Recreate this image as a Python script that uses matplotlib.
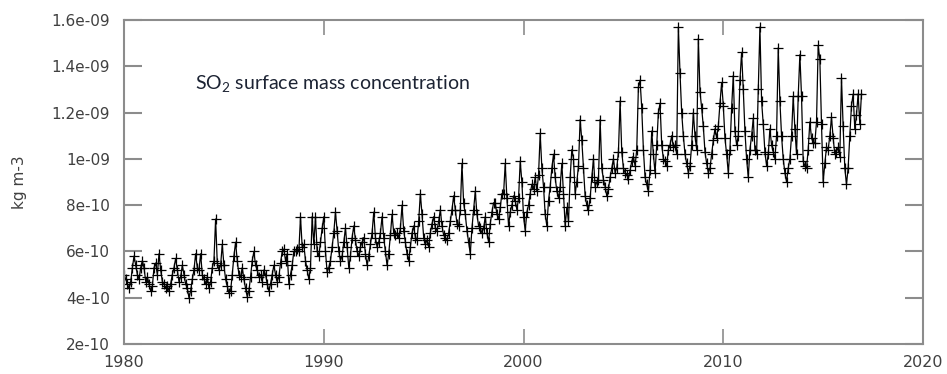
import numpy as np
import matplotlib
matplotlib.use("Agg")
import matplotlib.pyplot as plt

# monthly SO2 surface mass concentration, units of 1e-10 kg m-3, Jan..Dec per row
so2 = {
    1980: [5.0, 4.8, 4.6, 4.4, 4.7, 5.3, 5.8, 5.4, 5.0, 4.8, 5.3, 5.6],
    1981: [5.3, 4.7, 4.9, 4.6, 4.3, 4.5, 5.3, 5.5, 5.0, 5.9, 5.2, 4.7],
    1982: [4.6, 4.4, 4.5, 4.3, 4.6, 5.0, 5.3, 5.7, 5.2, 4.7, 4.9, 5.4],
    1983: [5.0, 4.6, 4.4, 4.0, 4.3, 4.8, 5.2, 5.9, 5.3, 5.2, 5.9, 5.0],
    1984: [4.8, 4.6, 4.9, 4.4, 4.7, 5.3, 5.6, 7.4, 5.5, 5.2, 5.4, 6.3],
    1985: [5.4, 4.8, 4.5, 4.2, 4.3, 5.0, 5.8, 6.4, 5.6, 5.0, 4.9, 5.3],
    1986: [4.8, 4.4, 4.05, 4.3, 4.9, 5.6, 6.0, 5.4, 5.2, 4.9, 5.0, 4.7],
    1987: [5.2, 5.0, 4.6, 4.3, 4.6, 5.0, 5.4, 5.0, 4.7, 4.9, 5.5, 6.0],
    1988: [6.1, 5.6, 5.9, 4.6, 5.0, 5.4, 6.0, 6.0, 6.1, 6.0, 7.5, 6.2],
    1989: [6.3, 5.6, 5.2, 4.8, 5.3, 7.5, 6.3, 7.5, 6.0, 5.8, 6.4, 7.0],
    1990: [7.5, 6.0, 5.1, 5.3, 5.6, 6.2, 6.8, 7.7, 6.9, 6.0, 5.6, 5.8],
    1991: [6.4, 7.0, 6.2, 5.3, 5.8, 6.6, 7.1, 6.5, 6.0, 5.8, 6.2, 6.4],
    1992: [6.6, 5.9, 5.4, 5.8, 6.3, 6.8, 7.7, 6.6, 6.2, 6.4, 6.8, 7.5],
    1993: [6.6, 6.0, 5.4, 5.9, 6.7, 7.6, 6.8, 6.7, 6.8, 6.6, 7.0, 8.0],
    1994: [6.9, 6.4, 5.9, 5.6, 6.2, 6.8, 7.1, 6.6, 6.5, 7.3, 8.5, 7.6],
    1995: [6.6, 6.3, 6.5, 6.2, 6.8, 7.2, 7.5, 7.0, 6.9, 7.3, 7.8, 7.1],
    1996: [6.7, 6.6, 6.5, 6.8, 7.3, 7.8, 8.4, 7.8, 7.2, 7.1, 7.8, 9.8],
    1997: [8.1, 7.6, 6.9, 6.4, 5.9, 7.0, 7.8, 8.6, 7.6, 7.1, 7.0, 6.8],
    1998: [7.0, 7.5, 6.8, 6.4, 7.2, 7.7, 8.1, 8.1, 7.6, 7.4, 7.9, 8.5],
    1999: [8.5, 9.8, 8.3, 7.1, 7.7, 8.0, 8.4, 8.2, 7.8, 8.3, 9.9, 9.0],
    2000: [7.5, 6.9, 7.7, 8.0, 8.5, 8.9, 8.7, 9.2, 8.6, 9.3, 11.1, 9.6],
    2001: [8.8, 7.6, 7.1, 8.2, 8.8, 9.6, 10.2, 9.2, 8.6, 8.3, 8.8, 9.8],
    2002: [8.5, 7.1, 7.9, 7.3, 9.2, 10.4, 10.0, 8.5, 9.0, 9.7, 11.7, 10.8],
    2003: [9.6, 8.4, 8.0, 7.8, 8.3, 9.2, 10.0, 8.8, 9.0, 9.1, 11.7, 9.6],
    2004: [9.1, 8.8, 8.4, 8.7, 9.2, 9.6, 10.0, 9.4, 9.6, 10.3, 12.5, 10.3],
    2005: [9.6, 9.4, 9.3, 9.15, 9.5, 9.9, 10.1, 9.7, 10.4, 13.1, 13.4, 12.2],
    2006: [10.4, 9.2, 8.9, 8.6, 9.5, 11.2, 10.2, 9.4, 10.6, 12.0, 12.4, 10.6],
    2007: [10.0, 9.9, 9.7, 10.4, 10.6, 11.0, 10.5, 10.6, 10.2, 15.7, 13.7, 12.0],
    2008: [11.0, 10.2, 9.8, 9.4, 9.7, 10.6, 12.0, 11.0, 10.4, 15.2, 12.9, 12.2],
    2009: [11.4, 10.3, 9.8, 9.4, 9.6, 10.2, 10.8, 11.3, 10.9, 11.4, 12.4, 13.3],
    2010: [12.3, 10.9, 10.2, 9.4, 10.4, 12.2, 13.6, 11.2, 10.6, 11.0, 13.4, 14.6],
    2011: [13.0, 11.2, 10.0, 9.2, 10.4, 11.0, 11.75, 10.4, 10.2, 13.0, 15.7, 12.5],
    2012: [11.5, 10.3, 9.7, 10.2, 11.3, 10.6, 10.3, 10.0, 11.0, 14.8, 12.5, 11.0],
    2013: [10.0, 9.4, 9.0, 9.6, 10.0, 11.0, 12.7, 11.3, 10.2, 12.7, 14.5, 12.7],
    2014: [9.9, 9.7, 9.6, 10.4, 11.6, 10.9, 10.7, 10.7, 11.6, 14.9, 14.3, 11.5],
    2015: [9.0, 9.8, 10.5, 10.4, 11.0, 11.8, 10.9, 10.2, 10.3, 10.5, 10.1, 13.5],
    2016: [11.4, 9.6, 8.9, 9.6, 11.0, 12.3, 12.8, 11.3, 11.9, 12.8, 11.5, 12.8],
}

xticks = [1980, 1990, 2000, 2010, 2020]
yticks = [2e-10, 4e-10, 6e-10, 8e-10, 1e-09, 1.2e-09, 1.4e-09, 1.6e-09]
ylabels = ["2e-10", "4e-10", "6e-10", "8e-10", "1e-09", "1.2e-09", "1.4e-09", "1.6e-09"]

t = []
c = []
for yr, vals in so2.items():
    for m, v in enumerate(vals):
        t.append(yr + m / 12)
        c.append(v * 1e-10)

plt.rcParams["mathtext.fontset"] = "custom"
plt.rcParams["mathtext.rm"] = "Lato"

fig = plt.figure(figsize=(9.47, 3.74), dpi=100)
ax = fig.add_axes([0.131, 0.0802, 0.8437, 0.8663])

ax.plot(t, c, color="black", lw=0.9, marker="+", ms=6.5, mew=0.9)

ax.set_xlim(1980, 2020)
ax.set_ylim(2e-10, 1.6e-09)
ax.set_xticks(xticks)
ax.set_xticklabels([str(x) for x in xticks])
ax.set_yticks(yticks)
ax.set_yticklabels(ylabels)

grey = "#8c8c8c"
for s in ax.spines.values():
    s.set_color(grey)
    s.set_linewidth(1.5)
ax.tick_params(axis="y", direction="in", length=13, width=1.5, color=grey,
               left=True, right=True, labelsize=11, labelcolor="#404040", pad=10)
ax.tick_params(axis="x", direction="in", length=11, width=1.2, color=grey,
               top=True, bottom=True, labelsize=11.5, labelcolor="#404040", pad=8)

ax.set_ylabel("kg m-3", fontsize=11, color="#404040")
ax.yaxis.set_label_coords(-0.122, 0.5)

fig.text(195 / 947, 1 - 84 / 374, r"SO$_2$ surface mass concentration",
         fontsize=14, family="Lato", color="#1c2333", va="center", ha="left")

fig.savefig("out.png", dpi=100)
